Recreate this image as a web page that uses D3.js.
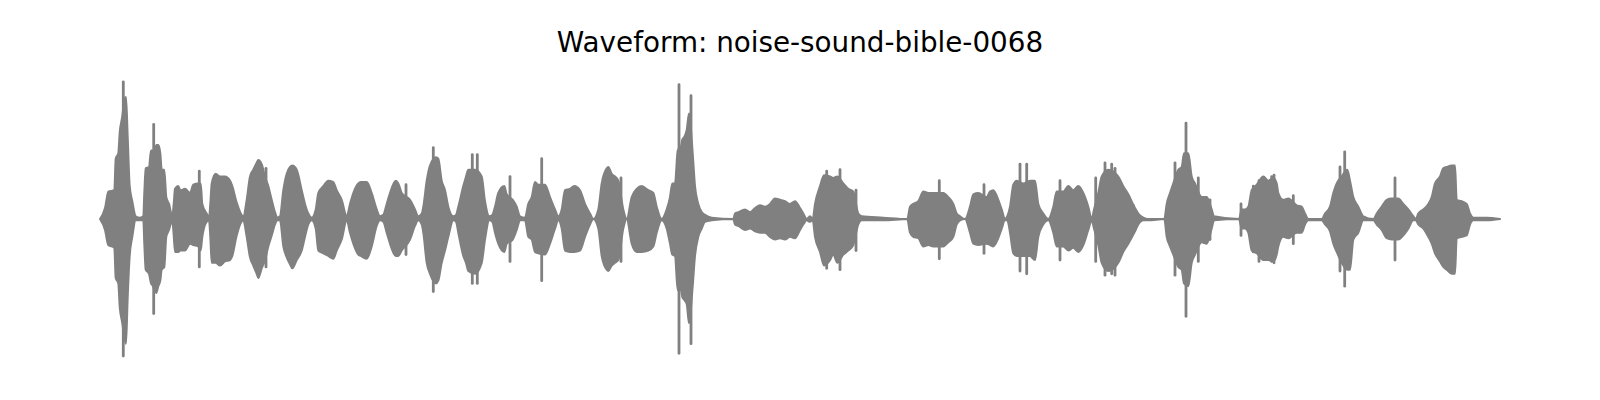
<!DOCTYPE html>
<html>
<head>
<meta charset="utf-8">
<script src="https://cdn.jsdelivr.net/npm/d3@7"></script>
<style>
html,body{margin:0;padding:0;background:#fff;}
svg{display:block;}
</style>
</head>
<body>
<svg id="chart" width="1600" height="400"></svg>
<script>
const title = "Waveform: noise-sound-bible-0068";

// Envelope of the waveform (time in s, upper and lower amplitude)
const envT = [0.00,0.05,0.083,0.143,0.157,0.183,0.197,0.223,0.243,0.26,0.277,0.297,0.323,0.357,0.40,0.433,0.443,0.457,0.49,0.51,0.53,0.543,0.563,0.583,0.603,0.617,0.643,0.663,0.69,0.723,0.737,0.75,0.783,0.803,0.85,0.90,0.933,0.983,1.007,1.023,1.067,1.09,1.103,1.117,1.157,1.20,1.25,1.30,1.323,1.367,
1.433,1.467,1.50,1.533,1.567,1.583,1.617,1.65,1.683,1.717,1.75,1.773,1.80,1.833,1.867,1.90,1.923,1.967,2.017,2.05,2.083,2.117,2.157,2.183,2.233,2.283,
2.333,2.367,2.417,2.467,2.50,2.533,2.583,2.607,2.667,2.717,2.767,2.80,2.833,2.867,2.90,2.957,2.983,3.017,3.10,3.15,3.183,3.217,3.233,3.267,3.30,3.36,3.383,3.417,3.45,3.483,3.533,3.56,3.583,3.633,3.66,3.683,3.75,3.817,3.85,3.893,3.923,3.95,3.983,4.043,4.067,4.127,4.167,4.20,4.25,4.283,4.317,4.35,4.383,4.45,4.50,4.55,4.583,4.617,
4.65,4.70,4.743,4.80,4.85,4.90,4.933,4.983,5.017,5.067,5.083,5.117,5.15,5.183,5.233,5.267,5.317,5.367,5.417,5.483,5.533,5.567,5.617,5.667,5.70,5.723,5.75,5.777,5.81,5.823,5.843,5.867,5.89,5.927,5.95,5.983,6.017,6.05,6.117,6.333,6.35,6.383,6.45,6.50,6.55,6.60,6.65,6.70,6.75,6.80,6.85,6.90,6.95,
7.00,7.033,7.067,7.10,7.127,7.15,7.20,7.24,7.30,7.333,7.373,7.433,7.483,7.533,7.583,7.617,7.833,8.073,8.10,8.133,8.183,8.233,8.283,8.333,8.433,8.483,8.533,8.567,8.60,8.65,8.70,8.733,8.783,8.867,8.90,8.933,8.983,9.017,9.05,9.073,9.10,9.133,9.167,9.233,9.30,
9.35,9.383,9.433,9.483,9.533,9.567,9.633,9.683,9.733,9.783,9.833,9.883,9.917,9.94,9.983,10.017,10.083,10.183,10.233,10.283,10.35,10.383,10.433,10.483,10.643,10.667,10.70,10.733,10.783,10.817,10.84,10.883,10.917,10.95,11.017,11.067,11.117,11.14,11.39,11.417,11.45,11.483,11.517,11.567,11.633,11.683,
11.733,11.767,11.783,11.833,11.883,11.967,12.017,12.05,12.083,12.217,12.25,12.30,12.333,12.367,12.417,12.473,12.50,12.533,12.583,12.633,12.733,12.767,12.817,12.867,12.917,12.983,13.033,13.083,13.133,13.157,13.183,13.233,13.283,13.317,13.35,13.40,13.433,13.467,13.517,13.55,13.567,13.617,13.667,13.70,13.733,13.867,14.00];

const envTop = [0.00,0.08,0.20,0.21,0.44,0.48,0.63,0.75,0.87,0.89,0.60,0.24,0.13,0.02,0.01,0.02,0.19,0.37,0.38,0.50,0.50,0.50,0.54,0.54,0.48,0.36,0.36,0.16,0.11,0.02,0.11,0.22,0.24,0.21,0.22,0.19,0.25,0.26,0.26,0.11,0.04,0.01,0.11,0.26,0.33,0.31,0.31,0.28,0.24,0.12,
0.02,0.14,0.31,0.36,0.41,0.43,0.40,0.31,0.24,0.14,0.05,0.01,0.02,0.21,0.33,0.38,0.39,0.36,0.21,0.11,0.04,0.01,0.07,0.19,0.24,0.28,
0.27,0.21,0.14,0.02,0.11,0.19,0.26,0.27,0.27,0.19,0.07,0.02,0.03,0.11,0.19,0.28,0.26,0.19,0.14,0.07,0.02,0.04,0.09,0.28,0.39,0.45,0.44,0.28,0.21,0.09,0.02,0.03,0.09,0.24,0.31,0.36,0.36,0.31,0.13,0.02,0.03,0.09,0.19,0.24,0.18,0.14,0.09,0.02,0.01,0.11,0.16,0.27,0.25,0.25,0.16,0.07,0.02,0.07,
0.21,0.22,0.24,0.21,0.11,0.04,0.00,0.07,0.26,0.37,0.38,0.33,0.31,0.28,0.07,0.00,0.16,0.22,0.24,0.21,0.19,0.09,0.00,0.07,0.16,0.26,0.26,0.50,0.53,0.58,0.60,0.65,0.77,0.48,0.24,0.11,0.05,0.03,0.01,0.00,0.04,0.05,0.07,0.05,0.08,0.10,0.09,0.11,0.15,0.14,0.13,0.11,0.13,
0.08,0.04,0.00,0.02,0.00,0.11,0.24,0.32,0.31,0.30,0.31,0.26,0.22,0.20,0.04,0.02,0.01,0.00,0.09,0.11,0.13,0.20,0.19,0.19,0.19,0.16,0.11,0.04,0.02,0.00,0.09,0.18,0.19,0.16,0.20,0.21,0.14,0.07,0.00,0.02,0.09,0.25,0.28,0.26,0.28,
0.28,0.11,0.04,0.00,0.09,0.20,0.20,0.24,0.21,0.24,0.19,0.09,0.00,0.07,0.19,0.31,0.36,0.31,0.24,0.18,0.08,0.04,0.01,0.00,0.00,0.11,0.19,0.26,0.36,0.38,0.48,0.48,0.31,0.26,0.16,0.16,0.07,0.02,0.00,0.07,0.07,0.09,0.21,0.25,0.31,0.28,
0.30,0.26,0.19,0.14,0.15,0.10,0.09,0.04,0.00,0.00,0.04,0.09,0.19,0.26,0.31,0.36,0.28,0.16,0.09,0.02,0.00,0.04,0.09,0.14,0.15,0.15,0.11,0.07,0.02,0.00,0.04,0.07,0.11,0.16,0.26,0.31,0.37,0.38,0.39,0.39,0.14,0.13,0.11,0.04,0.01,0.01,0.00];

const envBot = [0.00,-0.08,-0.19,-0.21,-0.43,-0.47,-0.64,-0.76,-0.86,-0.91,-0.57,-0.27,-0.13,-0.01,-0.01,-0.01,-0.18,-0.37,-0.40,-0.47,-0.49,-0.52,-0.54,-0.49,-0.45,-0.37,-0.35,-0.13,-0.08,-0.01,-0.12,-0.24,-0.24,-0.23,-0.23,-0.18,-0.19,-0.20,-0.23,-0.13,-0.02,-0.01,-0.13,-0.32,-0.32,-0.34,-0.31,-0.30,-0.27,-0.12,
-0.01,-0.13,-0.28,-0.34,-0.40,-0.43,-0.36,-0.30,-0.20,-0.12,-0.04,-0.01,-0.01,-0.20,-0.28,-0.33,-0.36,-0.30,-0.23,-0.13,-0.04,-0.01,-0.07,-0.23,-0.25,-0.27,
-0.29,-0.23,-0.15,-0.01,-0.10,-0.18,-0.26,-0.27,-0.29,-0.20,-0.05,-0.01,-0.02,-0.10,-0.18,-0.27,-0.27,-0.23,-0.15,-0.05,-0.01,-0.04,-0.10,-0.32,-0.40,-0.47,-0.45,-0.32,-0.23,-0.13,-0.01,-0.02,-0.10,-0.27,-0.32,-0.38,-0.40,-0.32,-0.15,-0.01,-0.02,-0.10,-0.18,-0.24,-0.18,-0.15,-0.08,-0.01,-0.01,-0.13,-0.15,-0.24,-0.25,-0.26,-0.18,-0.07,-0.01,-0.07,
-0.23,-0.24,-0.24,-0.23,-0.13,-0.04,0.00,-0.07,-0.27,-0.37,-0.38,-0.34,-0.32,-0.30,-0.07,0.00,-0.18,-0.24,-0.24,-0.23,-0.20,-0.10,-0.01,-0.07,-0.18,-0.26,-0.27,-0.52,-0.52,-0.57,-0.59,-0.62,-0.76,-0.49,-0.27,-0.13,-0.07,-0.02,-0.01,0.00,-0.04,-0.05,-0.08,-0.07,-0.09,-0.10,-0.10,-0.13,-0.15,-0.14,-0.15,-0.13,-0.14,
-0.08,-0.04,-0.01,-0.02,-0.01,-0.13,-0.24,-0.34,-0.30,-0.26,-0.32,-0.26,-0.23,-0.19,-0.04,-0.01,-0.01,0.00,-0.10,-0.13,-0.14,-0.20,-0.19,-0.20,-0.20,-0.17,-0.13,-0.04,-0.01,0.00,-0.10,-0.18,-0.19,-0.18,-0.19,-0.20,-0.14,-0.07,-0.01,-0.01,-0.10,-0.25,-0.27,-0.27,-0.27,
-0.30,-0.13,-0.04,-0.01,-0.10,-0.20,-0.20,-0.23,-0.21,-0.24,-0.19,-0.08,-0.01,-0.07,-0.19,-0.32,-0.38,-0.32,-0.24,-0.18,-0.09,-0.04,-0.01,-0.01,0.00,-0.13,-0.20,-0.26,-0.35,-0.37,-0.47,-0.49,-0.32,-0.26,-0.17,-0.18,-0.07,-0.01,0.00,-0.07,-0.07,-0.10,-0.23,-0.25,-0.30,-0.30,
-0.31,-0.26,-0.20,-0.13,-0.14,-0.10,-0.10,-0.04,-0.01,-0.01,-0.04,-0.09,-0.18,-0.24,-0.32,-0.37,-0.37,-0.15,-0.10,-0.01,-0.01,-0.04,-0.08,-0.14,-0.15,-0.15,-0.12,-0.07,-0.01,-0.01,-0.04,-0.07,-0.13,-0.18,-0.25,-0.31,-0.35,-0.37,-0.40,-0.40,-0.14,-0.13,-0.12,-0.04,-0.01,-0.01,0.00];

// Isolated sample peaks (time in s, max and min amplitude)
const spikeT   = [0.233,0.537,0.993,1.66,3.06,3.333,3.723,3.773,4.10,4.417,5.21,5.79,5.91,7.267,7.40,7.56,8.393,8.84,9.20,9.267,9.60,9.957,10.05,10.117,10.15,10.333,10.75,10.86,10.983,11.10,11.41,11.533,11.59,11.717,11.74,11.933,12.40,12.447,12.95];
const spikeTop = [1.00,0.69,0.35,0.37,0.25,0.52,0.47,0.47,0.31,0.44,0.30,0.98,0.90,0.35,0.36,0.21,0.28,0.25,0.40,0.40,0.28,0.30,0.41,0.40,0.37,0.10,0.41,0.70,0.30,0.14,0.11,0.24,0.28,0.31,0.32,0.17,0.38,0.49,0.30];
const spikeBot = [-1.00,-0.69,-0.35,-0.35,-0.26,-0.53,-0.47,-0.47,-0.31,-0.45,-0.31,-0.98,-0.91,-0.36,-0.37,-0.23,-0.29,-0.25,-0.38,-0.40,-0.30,-0.31,-0.41,-0.40,-0.41,-0.10,-0.41,-0.71,-0.31,-0.15,-0.12,-0.24,-0.31,-0.31,-0.32,-0.18,-0.38,-0.49,-0.30];

const color = "#808080";
const svg = d3.select("#chart");
svg.append("rect").attr("width",1600).attr("height",400).attr("fill","#fff");

const x = d3.scaleLinear().domain([0, 14.0]).range([100, 1500]);
const y = d3.scaleLinear().domain([-1, 1]).range([356, 82]);

const env = envT.map((t,i) => ({t, top: envTop[i], bot: envBot[i]}));
const area = d3.area()
  .curve(d3.curveMonotoneX)
  .x(d => x(d.t))
  .y0(d => y(d.bot))
  .y1(d => y(d.top));

svg.append("path")
  .datum(env)
  .attr("d", area)
  .attr("fill", color)
  .attr("stroke", color)
  .attr("stroke-width", 2)
  .attr("stroke-linejoin", "round")
  .attr("stroke-linecap", "round");

const spikes = spikeT.map((t,i) => ({t, top: spikeTop[i], bot: spikeBot[i]}));
svg.append("g").selectAll("line")
  .data(spikes)
  .join("line")
  .attr("x1", d => x(d.t)).attr("x2", d => x(d.t))
  .attr("y1", d => y(d.top)).attr("y2", d => y(d.bot))
  .attr("stroke", color)
  .attr("stroke-width", 2.8)
  .attr("stroke-linecap", "round");

svg.append("text")
  .attr("x", 800)
  .attr("y", 52)
  .attr("text-anchor", "middle")
  .attr("font-family", "DejaVu Sans")
  .attr("font-size", "27.8px")
  .attr("fill", "#000")
  .text(title);
</script>
</body>
</html>
